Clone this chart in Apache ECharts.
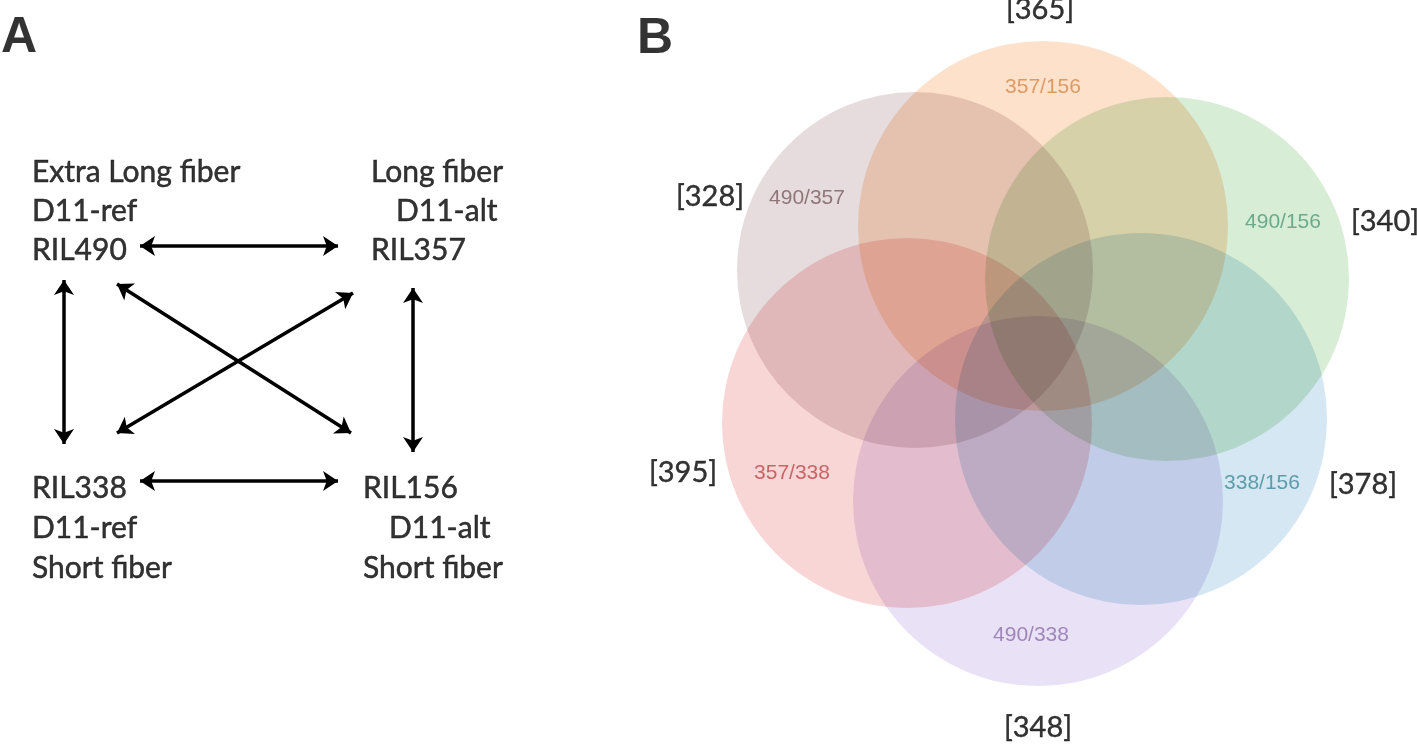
<!DOCTYPE html>
<html>
<head>
<meta charset="utf-8">
<script src="https://cdn.jsdelivr.net/npm/echarts@6/dist/echarts.min.js"></script>
<style>
html,body{margin:0;padding:0;background:#fff;}
#chart{width:1417px;height:744px;}
</style>
</head>
<body>
<div id="chart"></div>
<script>
// ---------- DATA ----------
// Panel A: the four lines and their descriptors
const strains = ['RIL490', 'RIL357', 'RIL338', 'RIL156'];
const alleles = ['D11-ref', 'D11-alt', 'D11-ref', 'D11-alt'];
const fiberTypes = ['Extra Long fiber', 'Long fiber', 'Short fiber', 'Short fiber'];
// comparisons drawn as double-headed arrows
const comparisons = [
  ['RIL490', 'RIL357'],
  ['RIL338', 'RIL156'],
  ['RIL490', 'RIL338'],
  ['RIL357', 'RIL156'],
  ['RIL490', 'RIL156'],
  ['RIL338', 'RIL357']
];
// Panel B: Venn sets (comparison name, gene count)
const vennNames = ['357/156', '490/357', '490/156', '357/338', '338/156', '490/338'];
const vennCounts = [365, 328, 340, 395, 378, 348];

// ---------- LAYOUT (pixel positions, sizes, styles) ----------
const W = 1417, H = 744;
const blockLayout = {
  RIL490: {x: 32, alleleX: 32, ys: [172, 211, 250], order: 'top'},
  RIL357: {x: 371, alleleX: 396, ys: [172, 211, 250], order: 'top'},
  RIL338: {x: 32, alleleX: 32, ys: [488, 528, 568], order: 'bottom'},
  RIL156: {x: 363, alleleX: 389, ys: [488, 528, 568], order: 'bottom'}
};
const arrowLayout = {
  'RIL490-RIL357': [[140, 246], [338, 246]],
  'RIL338-RIL156': [[140, 481], [338, 481]],
  'RIL490-RIL338': [[64, 280], [64, 444]],
  'RIL357-RIL156': [[413, 288], [413, 452]],
  'RIL490-RIL156': [[117, 284], [351, 433]],
  'RIL338-RIL357': [[117, 433], [353, 293]]
};
const circleLayout = [
  [1043, 226, 185], // 357/156 orange
  [915, 270, 178],  // 490/357 grey
  [1167, 279, 182], // 490/156 green
  [907, 423, 185],  // 357/338 pink
  [1141, 419, 186], // 338/156 blue
  [1038, 501, 185]  // 490/338 purple
];
const circleColors = [
  'rgb(254,218,190)',
  'rgb(224,211,212)',
  'rgb(206,233,203)',
  'rgb(248,204,204)',
  'rgb(201,225,239)',
  'rgb(227,217,242)'
];
const drawOrder = [1, 0, 2, 3, 5, 4];
const innerLabelPos = [[1043, 87], [807, 198], [1283, 222], [792, 473], [1262, 483], [1031, 635]];
const innerLabelColors = ['#d6884a', '#7b5b60', '#4f9a7c', '#b8474a', '#3f8a98', '#8c6fab'];
const countLabelPos = [[1040, 10], [710, 197], [1385, 222], [683, 473], [1363, 485], [1038, 728]];

const textFont = 'Lato, "Open Sans", sans-serif';

// ---------- BUILD ----------
const textItems = [];
strains.forEach((s, i) => {
  const L = blockLayout[s];
  const lines = L.order === 'top'
    ? [[fiberTypes[i], L.x], [alleles[i], L.alleleX], [s, L.x]]
    : [[s, L.x], [alleles[i], L.alleleX], [fiberTypes[i], L.x]];
  lines.forEach((ln, k) => {
    textItems.push({
      value: [ln[1], L.ys[k]], name: ln[0],
      label: {show: true, position: 'inside', align: 'left', verticalAlign: 'middle',
        formatter: '{b}', color: '#000', fontSize: 30, fontFamily: textFont,
        textBorderColor: '#000', textBorderWidth: 0.5}
    });
  });
});
textItems.push({value: [1, 38], name: 'A', label: {show: true, position: 'inside', align: 'left', verticalAlign: 'middle',
  formatter: '{b}', color: '#000', fontSize: 50, fontWeight: 'bold', fontFamily: '"Liberation Sans", Arial, sans-serif'}});
textItems.push({value: [637, 39], name: 'B', label: {show: true, position: 'inside', align: 'left', verticalAlign: 'middle',
  formatter: '{b}', color: '#000', fontSize: 50, fontWeight: 'bold', fontFamily: '"Liberation Sans", Arial, sans-serif'}});

const arrowData = comparisons.map(c => ({coords: arrowLayout[c[0] + '-' + c[1]]}));

const circleData = drawOrder.map(i => ({
  value: [circleLayout[i][0], circleLayout[i][1]],
  name: vennNames[i],
  symbolSize: circleLayout[i][2] * 2,
  itemStyle: {color: circleColors[i]}
}));

const vennLabelItems = [];
vennNames.forEach((n, i) => {
  vennLabelItems.push({
    value: innerLabelPos[i], name: n,
    label: {show: true, position: 'inside', formatter: '{b}', color: innerLabelColors[i],
      fontSize: 21, fontFamily: '"Liberation Sans", Arial, sans-serif'}
  });
  vennLabelItems.push({
    value: countLabelPos[i], name: '[' + vennCounts[i] + ']',
    label: {show: true, position: 'inside', formatter: '{b}', color: '#000',
      fontSize: 29, fontFamily: textFont, textBorderColor: '#000', textBorderWidth: 0.4}
  });
});

const chart = echarts.init(document.getElementById('chart'), null, {renderer: 'canvas'});
chart.setOption({
  animation: false,
  backgroundColor: '#fff',
  grid: {left: 0, right: 0, top: 0, bottom: 0},
  xAxis: {type: 'value', min: 0, max: W, show: false},
  yAxis: {type: 'value', min: 0, max: H, inverse: true, show: false},
  series: [
    {
      type: 'scatter', silent: true, symbol: 'circle', blendMode: 'multiply',
      data: circleData, z: 1
    },
    {
      type: 'lines', coordinateSystem: 'cartesian2d', silent: true,
      symbol: ['arrow', 'arrow'], symbolSize: 15,
      lineStyle: {color: '#000', width: 3.5, opacity: 1, curveness: 0},
      data: arrowData, z: 2
    },
    {
      type: 'scatter', silent: true, symbolSize: 1,
      itemStyle: {color: 'rgba(0,0,0,0)'},
      data: textItems.concat(vennLabelItems), z: 3
    }
  ]
});
</script>
</body>
</html>
